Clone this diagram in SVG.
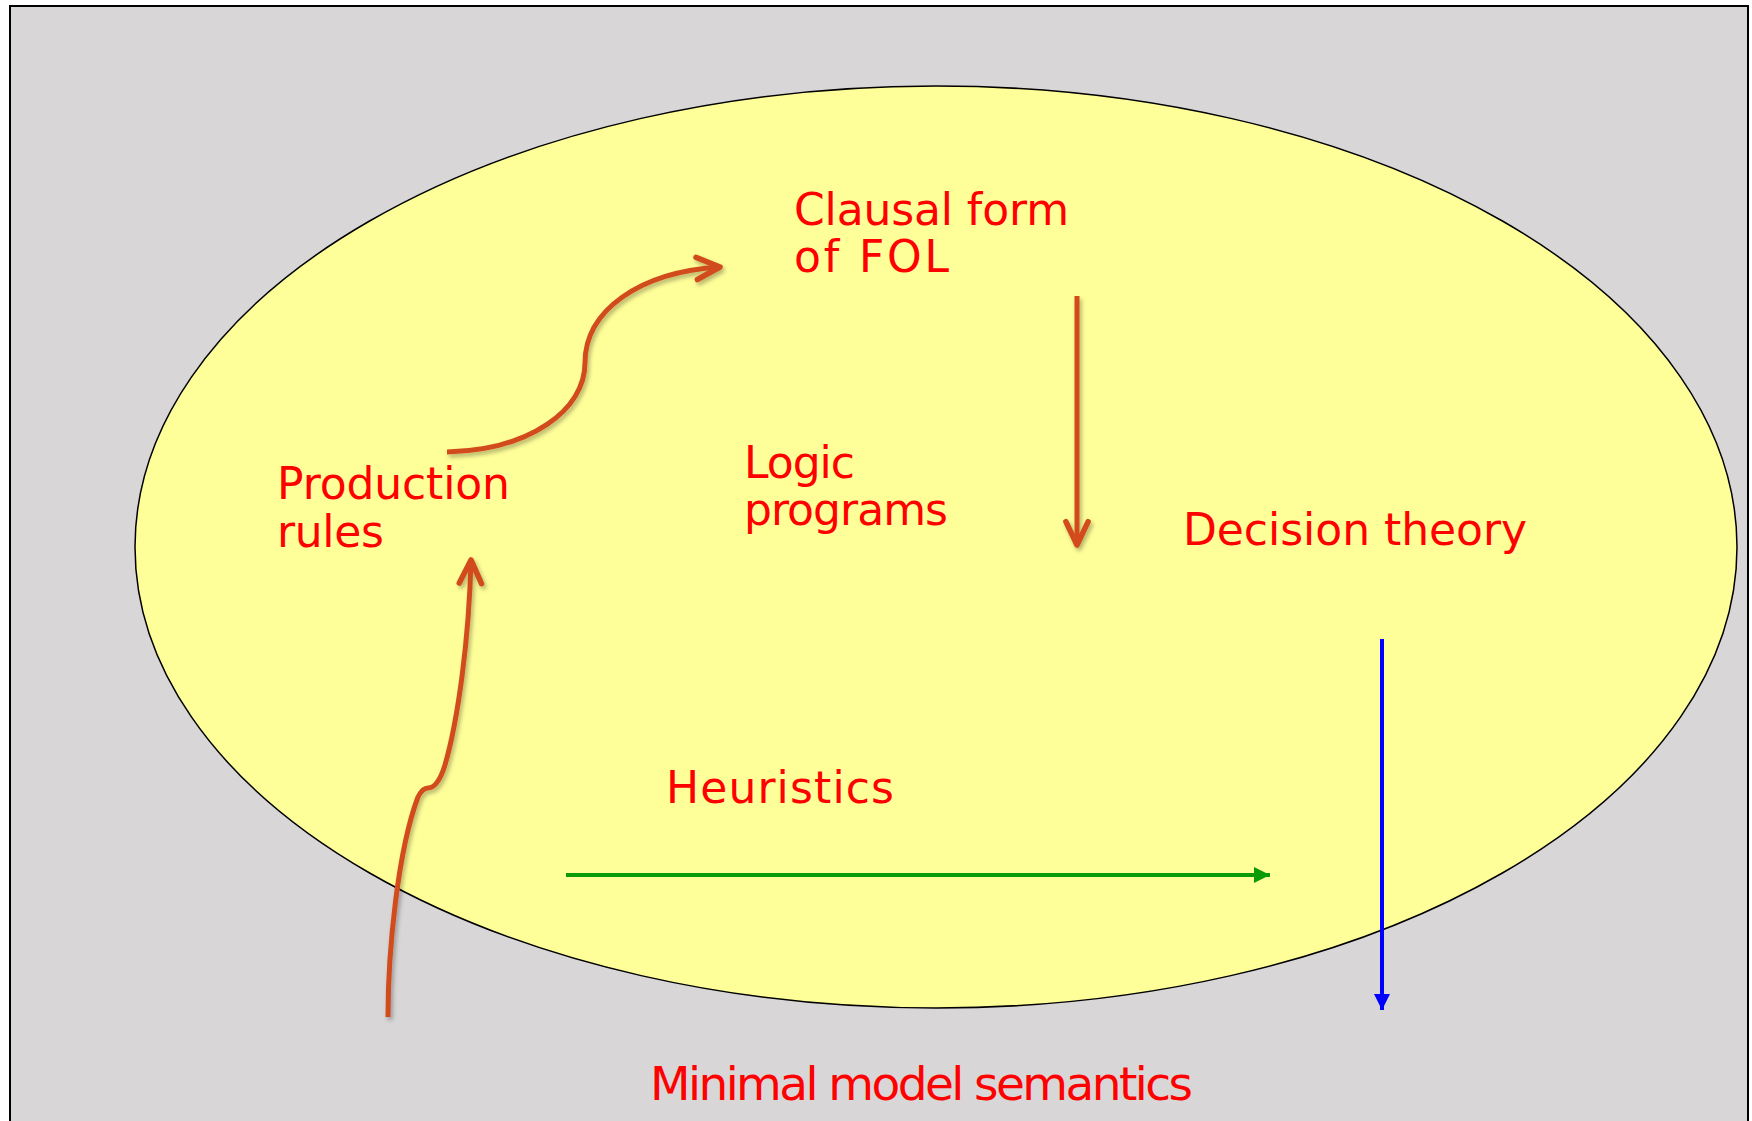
<svg xmlns="http://www.w3.org/2000/svg" width="1752" height="1121" viewBox="0 0 1752 1121">
  <style>
    .lbl { font-family: "DejaVu Sans", "Liberation Sans", sans-serif; font-size: 44px; fill: #ff0000; }
    .big { font-size: 47px; }
    .orange { fill: none; stroke: #d24c1c; stroke-width: 5; stroke-linecap: butt; }
  </style>
  <defs>
    <filter id="shadow" x="-20%" y="-20%" width="140%" height="140%">
      <feDropShadow dx="2" dy="3" stdDeviation="2" flood-color="#000000" flood-opacity="0.3"/>
    </filter>
    <marker id="chev" markerUnits="userSpaceOnUse" markerWidth="40" markerHeight="40" viewBox="-30 -15 36 30" refX="0" refY="0" orient="auto" overflow="visible">
      <path d="M-21,-10 L0,0 L-21,10" fill="none" stroke="#d24c1c" stroke-width="5" stroke-linecap="round" stroke-linejoin="round"/>
    </marker>
    <marker id="triG" markerUnits="userSpaceOnUse" markerWidth="20" markerHeight="20" viewBox="0 -10 20 20" refX="16" refY="0" orient="auto" overflow="visible">
      <path d="M0,-8 L16,0 L0,8 z" fill="#0a9a0a"/>
    </marker>
    <marker id="triB" markerUnits="userSpaceOnUse" markerWidth="20" markerHeight="20" viewBox="0 -10 20 20" refX="16" refY="0" orient="auto" overflow="visible">
      <path d="M0,-8 L16,0 L0,8 z" fill="#0000ff"/>
    </marker>
  </defs>

  <rect x="0" y="0" width="1752" height="1121" fill="#ffffff"/>
  <rect id="background" x="10" y="6" width="1738" height="1130" fill="#d8d6d7" stroke="#000000" stroke-width="2"/>
  <ellipse id="region" cx="936" cy="547" rx="801" ry="461" fill="#ffff99" stroke="#000000" stroke-width="1.5"/>

  <g id="clausal-form">
    <text class="lbl" x="794" y="225" textLength="275">Clausal form</text>
    <text class="lbl" x="794" y="272" textLength="155">of FOL</text>
  </g>
  <g id="production-rules">
    <text class="lbl" x="277" y="499" textLength="233">Production</text>
    <text class="lbl" x="277" y="547" textLength="107">rules</text>
  </g>
  <g id="logic-programs">
    <text class="lbl" x="744" y="478" textLength="111">Logic</text>
    <text class="lbl" x="744" y="525" textLength="204">programs</text>
  </g>
  <g id="decision-theory">
    <text class="lbl" x="1183" y="545" textLength="344">Decision theory</text>
  </g>
  <g id="heuristics">
    <text class="lbl" x="666" y="803" textLength="228">Heuristics</text>
  </g>
  <g id="minimal-model-semantics">
    <text class="lbl big" x="650" y="1100" textLength="543">Minimal model semantics</text>
  </g>

  <g id="connectors">
    <g filter="url(#shadow)">
      <path class="orange" d="M447,452 C530,450 585,410 585,363 C585,310 640,272 720,267" marker-end="url(#chev)"/>
      <path class="orange" d="M1077,296 L1077,545" marker-end="url(#chev)"/>
      <path class="orange" d="M388,1017 C388,950 398,850 418,797 C421,791 424,788 428,788 C434,788 440,781 445,765 C458,720 469,640 471,560" marker-end="url(#chev)"/>
    </g>
    <path d="M566,875 L1270,875" fill="none" stroke="#0a9a0a" stroke-width="4" marker-end="url(#triG)"/>
    <path d="M1382,639 L1382,1010" fill="none" stroke="#0000ff" stroke-width="4" marker-end="url(#triB)"/>
  </g>
</svg>
